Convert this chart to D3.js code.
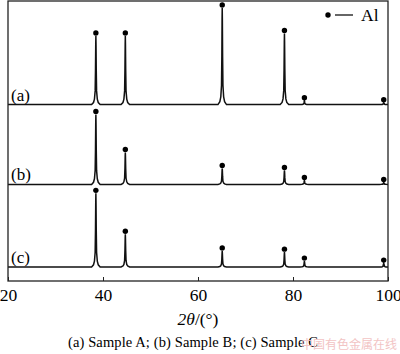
<!DOCTYPE html>
<html>
<head>
<meta charset="utf-8">
<script src="https://cdn.jsdelivr.net/npm/d3@7/dist/d3.min.js"></script>
<style>
  body { margin: 0; background: #fff; }
  svg text { font-family: "Liberation Serif", "Times New Roman", serif; }
</style>
</head>
<body>
<div id="xrd"></div>
<script>
// Al reflection positions (2theta, deg)
var peakPos = [38.5, 44.7, 65.1, 78.2, 82.4, 99.1];
// peak heights above each baseline (arbitrary units)
var heightsA = [24.5, 24.5, 34.5, 25.4, 1.4, 0.7];
var heightsB = [25.0, 11.4, 5.7, 5.0, 1.4, 0.7];
var heightsC = [26.3, 11.7, 5.7, 5.3, 2.1, 1.4];
var sampleNames = ["(a)", "(b)", "(c)"];
var baseOffsets = [63, 34.5, 5];
var xTicks = [20, 40, 60, 80, 100];

var width = 400, height = 354;
var margin = { top: 1, right: 12, bottom: 73, left: 8 };

var svg = d3.select("#xrd").append("svg")
    .attr("width", width)
    .attr("height", height);

var x = d3.scaleLinear().domain([20, 100]).range([margin.left, width - margin.right]);
var y = d3.scaleLinear().domain([0, 100]).range([height - margin.bottom, margin.top]);

// peak shape template: [dx, fraction of height]
var shape = [[-0.9, 0], [-0.5, 0.03], [-0.3, 0.08], [-0.15, 0.2], [-0.08, 0.5], [-0.03, 0.88], [0, 1],
             [0.03, 0.88], [0.08, 0.5], [0.15, 0.2], [0.3, 0.08], [0.5, 0.03], [0.9, 0]];

function pattern(heights) {
    var pts = [[20, 0]];
    peakPos.forEach(function(p, i) {
        shape.forEach(function(s) { pts.push([p + s[0], heights[i] * s[1]]); });
    });
    pts.push([99.8, 0]);
    return pts;
}

var line = d3.line().x(d => x(d[0])).y(d => y(d[1]));

[heightsA, heightsB, heightsC].forEach(function(h, k) {
    var off = baseOffsets[k];
    svg.append("path")
        .datum(pattern(h).map(d => [d[0], d[1] + off]))
        .attr("d", line)
        .attr("fill", "none")
        .attr("stroke", "#111")
        .attr("stroke-width", 1.5);

    svg.selectAll(null)
        .data(peakPos)
        .enter().append("circle")
        .attr("cx", d => x(d))
        .attr("cy", (d, i) => y(h[i] + off) - 3)
        .attr("r", 2.7)
        .attr("fill", "#000");

    svg.append("text")
        .attr("x", 11)
        .attr("y", y(off) - 4)
        .attr("font-size", 17)
        .text(sampleNames[k]);
});

// frame
svg.append("rect")
    .attr("x", margin.left)
    .attr("y", margin.top)
    .attr("width", width - margin.left - margin.right)
    .attr("height", height - margin.bottom - margin.top)
    .attr("fill", "none")
    .attr("stroke", "#222")
    .attr("stroke-width", 1.3);

var xAxis = svg.append("g")
    .attr("transform", "translate(0," + (height - margin.bottom) + ")")
    .call(d3.axisBottom(x).tickValues(xTicks).tickSizeInner(-4).tickSizeOuter(0).tickPadding(8));
xAxis.select(".domain").remove();
xAxis.selectAll("text")
    .attr("font-size", 17.5)
    .attr("fill", "#000")
    .style("font-family", "Liberation Serif, serif");
xAxis.selectAll("line").attr("stroke", "#222");

// axis title
var title = svg.append("text")
    .attr("x", 198)
    .attr("y", 325)
    .attr("text-anchor", "middle")
    .attr("font-size", 17.5);
title.append("tspan").attr("font-style", "italic").text("2θ");
title.append("tspan").text("/(°)");

// legend
svg.append("circle").attr("cx", 328).attr("cy", 15).attr("r", 2.7).attr("fill", "#000");
svg.append("line").attr("x1", 335).attr("x2", 353).attr("y1", 15).attr("y2", 15)
    .attr("stroke", "#000").attr("stroke-width", 1.2);
svg.append("text").attr("x", 361).attr("y", 21).attr("font-size", 17.5).text("Al");

// caption
svg.append("text")
    .attr("x", 68)
    .attr("y", 347)
    .attr("font-size", 14.5)
    .attr("textLength", 250)
    .text("(a) Sample A; (b) Sample B; (c) Sample C");

svg.append("text")
    .attr("x", 397)
    .attr("y", 349)
    .attr("text-anchor", "end")
    .attr("font-size", 12)
    .attr("fill", "#f2c4c4")
    .style("font-family", "Noto Sans CJK SC, sans-serif")
    .text("中国有色金属在线");
</script>
</body>
</html>
